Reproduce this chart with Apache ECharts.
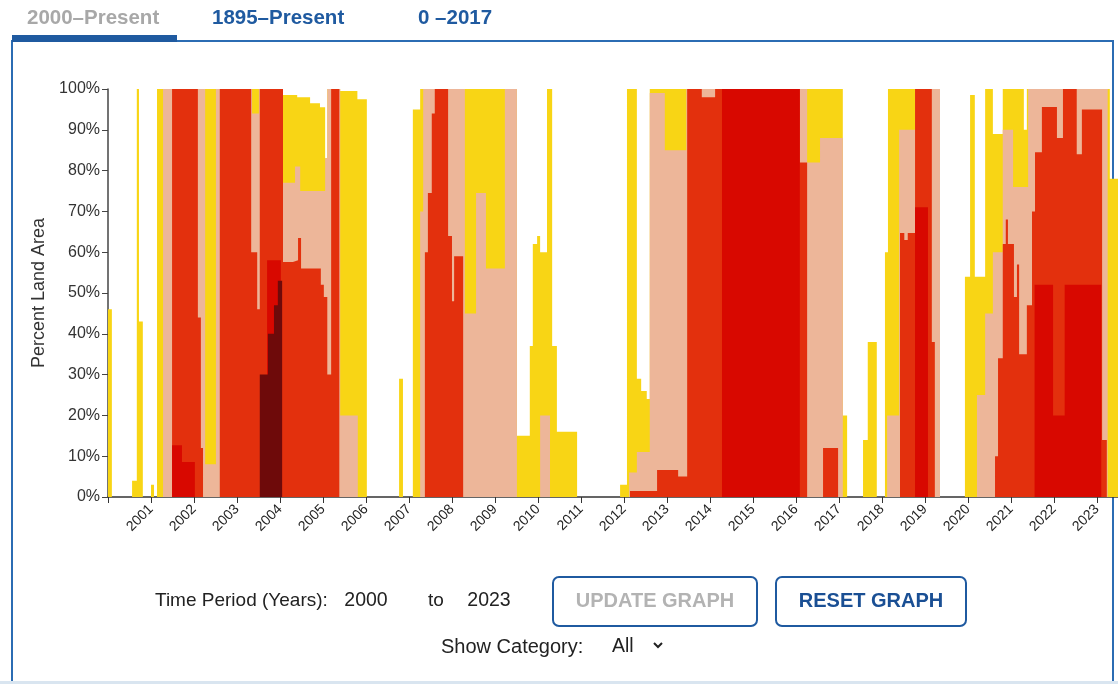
<!DOCTYPE html>
<html><head><meta charset="utf-8">
<style>html,body{margin:0;padding:0;background:#fff}#c{width:1118px;height:684px}</style>
<script src="https://cdn.jsdelivr.net/npm/echarts@6/dist/echarts.min.js"></script>
</head><body><div id="c"></div>
<script>
// Drought categories: cumulative percent of land area, [decimal year, percent] change points (step data)
const categories = ['D0–D4', 'D1–D4', 'D2–D4', 'D3–D4', 'D4'];
const colors = ['#F8D515', '#EDB699', '#E3300D', '#D80800', '#6E0A0A'];

const d0 = [
[2000.00,46],[2000.09,0],[2000.56,4],[2000.67,100],[2000.72,43],[2000.81,0],
[2001.00,3],[2001.07,0],[2001.14,100],
[2004.07,98.5],[2004.40,98],[2004.70,96.5],[2004.93,95.5],[2005.05,83],[2005.10,100],[2005.40,99.5],[2005.80,97.5],[2006.02,0],
[2006.77,29],[2006.86,0],
[2007.09,95],[2007.26,100],[2009.51,15],[2009.81,37],[2009.88,62],[2009.98,64],[2010.05,60],[2010.21,100],[2010.33,37],[2010.44,16],[2010.91,0],
[2011.91,3],[2012.07,100],[2012.30,29],[2012.40,26],[2012.53,24],[2012.60,100],
[2017.09,20],[2017.19,0],
[2017.56,14],[2017.67,38],[2017.88,0],
[2018.07,60],[2018.14,100],[2019.35,0],
[2019.93,54],[2020.05,98.5],[2020.16,54],[2020.40,100],[2020.58,89],[2020.81,100],[2021.30,90],[2021.37,100],
[2023.30,78],[2023.49,78]
];
const d1 = [
[2000.00,0],[2001.28,100],[2002.26,8],[2002.51,100],[2003.35,94],[2003.51,100],
[2004.07,77],[2004.35,81],[2004.47,75],[2005.05,83],[2005.10,100],[2005.40,20],[2005.81,0],
[2007.26,70],[2007.33,100],[2008.30,45],[2008.56,74.5],[2008.79,56],[2009.23,100],[2009.51,0],
[2010.05,20],[2010.28,0],
[2012.12,6],[2012.30,11],[2012.60,99],[2012.95,85],[2013.45,100],[2016.26,82],[2016.56,88],[2017.09,0],
[2018.12,20],[2018.40,90],[2018.77,100],[2019.35,0],
[2020.21,25],[2020.40,45],[2020.58,60],[2020.81,90],[2021.05,76],[2021.40,100],[2023.25,0],[2023.49,0]
];
const d2 = [
[2000.00,0],[2001.49,100],[2002.09,44],[2002.16,12],[2002.21,0],[2002.60,100],[2003.33,60],[2003.47,46],[2003.53,100],
[2004.07,57.6],[2004.30,58],[2004.42,63.5],[2004.49,56],[2004.95,52],[2005.02,49],[2005.10,30],[2005.19,100],[2005.38,0],
[2007.37,60],[2007.44,74.5],[2007.53,94],[2007.60,100],[2007.91,64],[2008.00,48],[2008.05,59],[2008.26,0],
[2012.14,1.5],[2012.77,6.6],[2013.26,5],[2013.47,100],[2013.81,98],[2014.12,100],[2016.09,82],[2016.26,0],
[2016.63,12],[2016.98,0],
[2018.42,64.7],[2018.52,63],[2018.60,64.7],[2018.77,100],[2019.16,38],[2019.23,0],
[2020.63,10],[2020.70,34],[2020.81,62],[2020.88,68],[2020.93,62],[2021.07,49],[2021.14,57],[2021.19,35],[2021.37,47],[2021.49,70],[2021.56,84.5],[2021.72,95.6],[2022.07,88],[2022.21,100],[2022.53,84],[2022.65,95],[2023.12,14],[2023.23,0],[2023.49,0]
];
const d3 = [
[2000.00,0],[2001.49,12.7],[2001.72,8.6],[2002.02,0],
[2003.70,58],[2004.02,0],
[2014.28,100],[2016.09,0],
[2018.77,71],[2019.07,0],
[2021.55,52],[2021.98,20],[2022.25,52],[2023.10,0],[2023.49,0]
];
const d4 = [
[2000.00,0],[2003.53,30],[2003.72,40],[2003.86,47],[2003.95,53],[2004.05,0],[2023.49,0]
];
const seriesData = [d0, d1, d2, d3, d4];

const xTickYears = [2000,2001,2002,2003,2004,2005,2006,2007,2008,2009,2010,2011,2012,2013,2014,2015,2016,2017,2018,2019,2020,2021,2022,2023];
const xLabelYears = [2001,2002,2003,2004,2005,2006,2007,2008,2009,2010,2011,2012,2013,2014,2015,2016,2017,2018,2019,2020,2021,2022,2023];

const FONT = '"Liberation Sans", Arial, sans-serif';
const BLUE = '#1F5AA0';

const chart = echarts.init(document.getElementById('c'), null, {renderer: 'canvas'});
chart.setOption({
  animation: false,
  textStyle: {fontFamily: FONT},
  grid: {left: 108, right: 0, top: 89, bottom: 187, containLabel: false},
  xAxis: {
    type: 'value', min: 2000, max: 2023.49, interval: 1,
    axisLine: {lineStyle: {color: '#333', width: 1.5}},
    axisTick: {customValues: xTickYears, length: 6, lineStyle: {color: '#333'}},
    axisLabel: {customValues: xLabelYears, rotate: 45, fontSize: 14, color: '#222', margin: 10, formatter: v => String(v)},
    splitLine: {show: false}
  },
  yAxis: {
    type: 'value', min: 0, max: 100, interval: 10,
    name: 'Percent Land Area', nameLocation: 'middle', nameGap: 51, nameRotate: 90,
    nameTextStyle: {fontSize: 18, color: '#333'},
    axisLine: {show: true, lineStyle: {color: '#444', width: 1.5}},
    axisTick: {show: true, length: 6, lineStyle: {color: '#444'}},
    axisLabel: {formatter: '{value}%', fontSize: 16, color: '#333', margin: 8},
    splitLine: {show: false}
  },
  series: seriesData.map((d, i) => ({
    name: categories[i], type: 'line', step: 'end', data: d,
    symbol: 'none', showSymbol: false, silent: true,
    lineStyle: {width: 0, opacity: 0},
    areaStyle: {color: colors[i], opacity: 1},
    z: 2 + i
  })),
  graphic: {elements: [
    {type: 'rect', z: -5, shape: {x: 12, y: 41, width: 1101, height: 700}, style: {fill: 'none', stroke: '#2B6CB3', lineWidth: 2}},
    {type: 'rect', z: -4, shape: {x: 12, y: 35, width: 165, height: 7}, style: {fill: BLUE}},
    {type: 'rect', z: -4, shape: {x: 0, y: 681, width: 1118, height: 3}, style: {fill: '#D9E5F0'}},
    {type: 'text', x: 27, y: 18, style: {text: '2000–Present', fill: '#A8A8A8', font: 'bold 20.5px ' + FONT, verticalAlign: 'middle'}},
    {type: 'text', x: 212, y: 18, style: {text: '1895–Present', fill: BLUE, font: 'bold 20.5px ' + FONT, verticalAlign: 'middle'}},
    {type: 'text', x: 418, y: 18, style: {text: '0 –2017', fill: BLUE, font: 'bold 20.5px ' + FONT, verticalAlign: 'middle'}},
    {type: 'text', x: 155, y: 601, style: {text: 'Time Period (Years):', fill: '#222', font: '19px ' + FONT, verticalAlign: 'middle'}},
    {type: 'text', x: 366, y: 601, style: {text: '2000', fill: '#222', font: '19.5px ' + FONT, align: 'center', verticalAlign: 'middle'}},
    {type: 'text', x: 436, y: 601, style: {text: 'to', fill: '#222', font: '19px ' + FONT, align: 'center', verticalAlign: 'middle'}},
    {type: 'text', x: 489, y: 601, style: {text: '2023', fill: '#222', font: '19.5px ' + FONT, align: 'center', verticalAlign: 'middle'}},
    {type: 'rect', shape: {x: 553, y: 577, width: 204, height: 49, r: 6}, style: {fill: '#fff', stroke: BLUE, lineWidth: 2}},
    {type: 'text', x: 655, y: 601, style: {text: 'UPDATE GRAPH', fill: '#B3B3B3', font: 'bold 20px ' + FONT, align: 'center', verticalAlign: 'middle'}},
    {type: 'rect', shape: {x: 776, y: 577, width: 190, height: 49, r: 6}, style: {fill: '#fff', stroke: BLUE, lineWidth: 2}},
    {type: 'text', x: 871, y: 601, style: {text: 'RESET GRAPH', fill: '#1A4F94', font: 'bold 20px ' + FONT, align: 'center', verticalAlign: 'middle'}},
    {type: 'text', x: 441, y: 647, style: {text: 'Show Category:', fill: '#222', font: '20px ' + FONT, verticalAlign: 'middle'}},
    {type: 'text', x: 612, y: 647, style: {text: 'All', fill: '#222', font: '19.5px ' + FONT, verticalAlign: 'middle'}},
    {type: 'polyline', shape: {points: [[654, 643], [658, 647], [662, 643]]}, style: {stroke: '#222', lineWidth: 2, fill: 'none'}}
  ]}
});
</script>
</body></html>
